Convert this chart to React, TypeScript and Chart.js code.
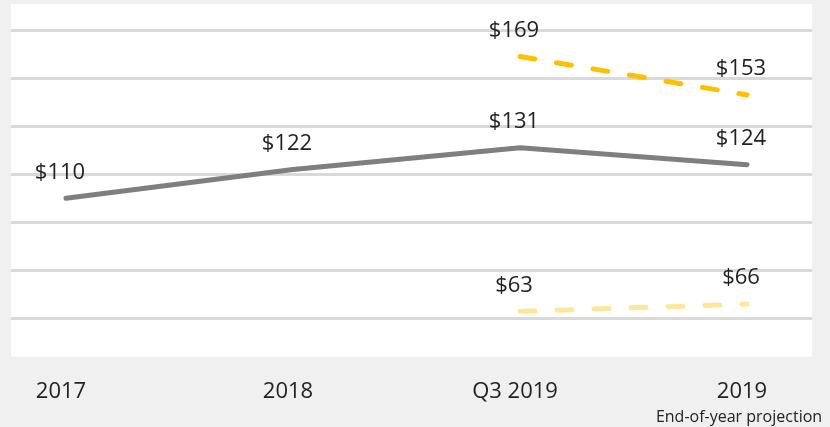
import React, { useEffect, useRef } from 'react';
import { Chart, registerables } from 'chart.js';

Chart.register(...registerables);

const categories = ['2017', '2018', 'Q3 2019', '2019'];
const subtitle = 'End-of-year projection';
const subtitleCategory = 3;
const actualValues: (number | null)[] = [110, 122, 131, 124];
const highValues: (number | null)[] = [null, null, 169, 153];
const lowValues: (number | null)[] = [null, null, 63, 66];
const yTicks = [60, 80, 100, 120, 140, 160, 180];

const FONT = "'Open Sans', 'Noto Sans', sans-serif";
const TEXT = '#222222';

const toPoints = (vals: (number | null)[]) =>
  vals.map((v, i) => ({ x: i, y: v })).filter((p) => p.y !== null);

const background = {
  id: 'background',
  beforeDraw(chart: any) {
    const { ctx, chartArea } = chart;
    ctx.save();
    ctx.fillStyle = '#f0f0f0';
    ctx.fillRect(0, 0, chart.width, chart.height);
    ctx.fillStyle = '#ffffff';
    ctx.fillRect(chartArea.left, chartArea.top, chartArea.right - chartArea.left, chartArea.bottom - chartArea.top);
    ctx.restore();
  },
};

const valueLabels = {
  id: 'valueLabels',
  afterDatasetsDraw(chart: any) {
    const ctx = chart.ctx;
    ctx.save();
    ctx.font = `22px ${FONT}`;
    ctx.fillStyle = TEXT;
    ctx.textAlign = 'center';
    ctx.textBaseline = 'middle';
    chart.data.datasets.forEach((ds: any, di: number) => {
      const meta = chart.getDatasetMeta(di);
      meta.data.forEach((el: any, i: number) => {
        const raw = ds.data[i];
        if (!raw || raw.y == null) return;
        ctx.fillText('$' + raw.y, el.x - 6, el.y - 26);
      });
    });
    ctx.restore();
  },
};

const subtitlePlugin = {
  id: 'subtitleUnderTick',
  afterDraw(chart: any) {
    const ctx = chart.ctx;
    const xs = chart.scales.x;
    ctx.save();
    ctx.font = `16px ${FONT}`;
    ctx.fillStyle = TEXT;
    ctx.textAlign = 'center';
    ctx.textBaseline = 'middle';
    ctx.fillText(subtitle, xs.getPixelForValue(subtitleCategory) - 8, chart.chartArea.bottom + 61);
    ctx.restore();
  },
};

export default function App() {
  const ref = useRef<HTMLCanvasElement>(null);

  useEffect(() => {
    document.body.style.margin = '0';
    document.body.style.background = '#f0f0f0';
    const canvas = ref.current!;
    const xMin = -0.2423;
    const xMax = 3.2863;
    const chart = new Chart(canvas, {
      type: 'line',
      data: {
        datasets: [
          {
            data: toPoints(highValues) as any,
            borderColor: '#FFC000',
            borderWidth: 5,
            borderDash: [15, 22],
            borderCapStyle: 'round',
            pointRadius: 0,
            fill: false,
          },
          {
            data: toPoints(actualValues) as any,
            borderColor: '#7f7f7f',
            borderWidth: 5,
            borderCapStyle: 'round',
            borderJoinStyle: 'round',
            pointRadius: 0,
            fill: false,
          },
          {
            data: toPoints(lowValues) as any,
            borderColor: '#FFE699',
            borderWidth: 5,
            borderDash: [15, 22],
            borderCapStyle: 'round',
            pointRadius: 0,
            fill: false,
          },
        ],
      },
      options: {
        responsive: false,
        animation: false,
        layout: { padding: { left: 11, right: 18, top: 4, bottom: 0 } },
        plugins: { legend: { display: false }, tooltip: { enabled: false } },
        scales: {
          x: {
            type: 'linear',
            min: xMin,
            max: xMax,
            afterBuildTicks: (scale: any) => {
              scale.ticks = categories.map((_, i) => ({ value: i }));
            },
            ticks: {
              autoSkip: false,
              maxRotation: 0,
              labelOffset: -5,
              padding: 22,
              color: TEXT,
              font: { family: FONT, size: 22 },
              callback: (v: any) => categories[Math.round(Number(v))],
            },
            grid: { display: false, drawTicks: false },
            border: { display: false },
          },
          y: {
            min: 44.17,
            max: 190.83,
            afterBuildTicks: (scale: any) => {
              scale.ticks = yTicks.map((v) => ({ value: v }));
            },
            ticks: { display: false },
            grid: { color: '#d9d9d9', lineWidth: 3, drawTicks: false },
            border: { display: false },
          },
        },
      },
      plugins: [background, valueLabels, subtitlePlugin],
    });
    return () => chart.destroy();
  }, []);

  return (
    <div style={{ position: 'absolute', left: 0, top: 0, width: 830, height: 427 }}>
      <canvas ref={ref} width={830} height={427} style={{ display: 'block' }} />
    </div>
  );
}
